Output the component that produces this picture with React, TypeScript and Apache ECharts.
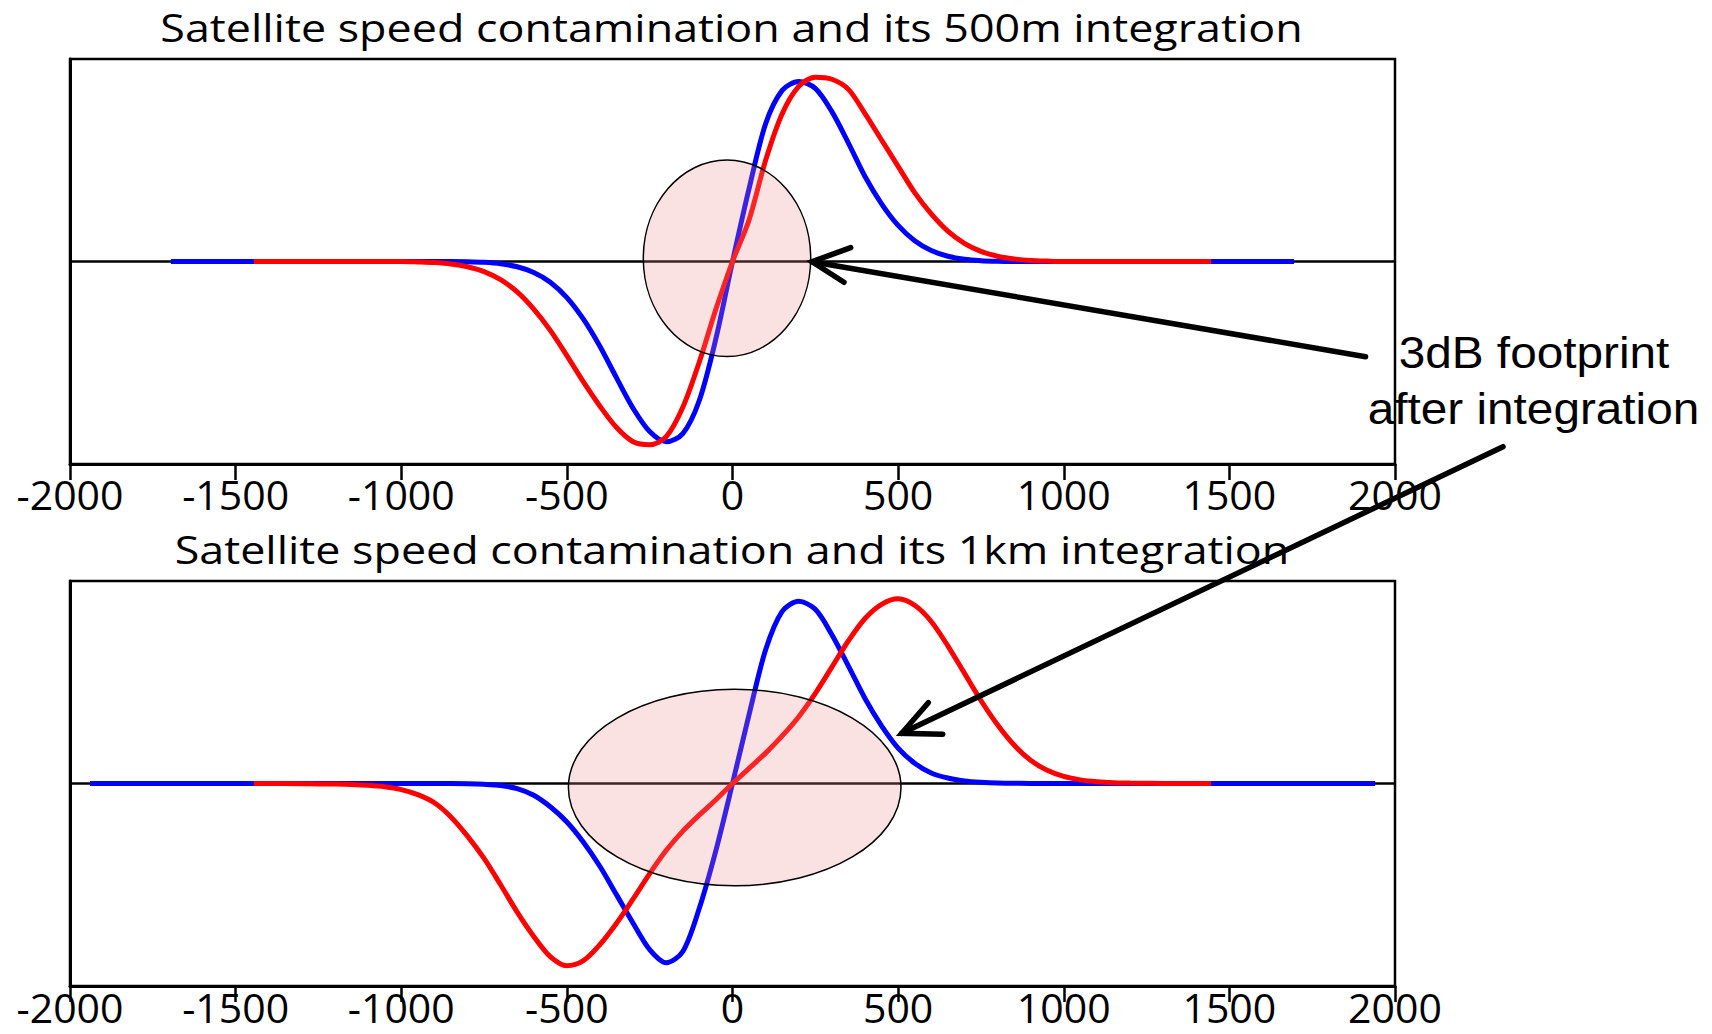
import React, { useEffect, useRef } from 'react';
import * as echarts from 'echarts';

// ---------- data ----------
const titleTop = 'Satellite speed contamination and its 500m integration';
const titleBottom = 'Satellite speed contamination and its 1km integration';
const noteLines = ['3dB footprint', 'after integration'];

const xMin = -2000;
const xMax = 2000;
const xStep = 500;

// sample positions used for the central part of the curves
const curveX = [
  -1000, -950, -900, -850, -800, -750, -700, -650, -600, -550,
  -500, -450, -400, -350, -300, -250, -200, -150, -100, -50,
  0,
  50, 100, 150, 200, 250, 300, 350, 400, 450, 500,
  550, 600, 650, 700, 750, 800, 850, 900, 950, 1000,
];

// top panel: satellite speed contamination (blue) and its 500 m integration (red)
const topBlueEnds = [-1695, 1695];
const topBlueY = [
  0, 0, 0, 0, -0.001, -0.004, -0.011, -0.026, -0.054, -0.102,
  -0.178, -0.285, -0.42, -0.575, -0.725, -0.84, -0.89, -0.85, -0.685, -0.38,
  0,
  0.36, 0.68, 0.845, 0.889, 0.855, 0.74, 0.585, 0.42, 0.285, 0.178,
  0.102, 0.054, 0.026, 0.011, 0.004, 0.001, 0, 0, 0, 0,
];
const topRedEnds = [-1445, 1445];
const topRedY = [
  0, -0.002, -0.005, -0.012, -0.026, -0.05, -0.09, -0.15, -0.235, -0.34,
  -0.465, -0.595, -0.715, -0.82, -0.89, -0.905, -0.865, -0.72, -0.495, -0.235,
  0,
  0.205, 0.5, 0.73, 0.865, 0.91, 0.9, 0.85, 0.73, 0.6, 0.47,
  0.34, 0.235, 0.15, 0.09, 0.05, 0.026, 0.012, 0.005, 0.002, 0,
];

// bottom panel: satellite speed contamination (blue) and its 1 km integration (red)
const bottomBlueEnds = [-1940, 1940];
const bottomBlueY = [
  0, 0, 0, 0, -0.001, -0.004, -0.01, -0.025, -0.058, -0.115,
  -0.19, -0.29, -0.41, -0.55, -0.69, -0.82, -0.885, -0.83, -0.615, -0.33,
  0,
  0.34, 0.66, 0.85, 0.9, 0.86, 0.735, 0.58, 0.42, 0.285, 0.175,
  0.1, 0.052, 0.027, 0.013, 0.006, 0.002, 0.001, 0, 0, 0,
];
const bottomRedEnds = [-1445, 1445];
const bottomRedX = [
  -1300, -1250, -1200, -1150, -1100, -1050, -1000, -950, -900, -850,
  -800, -750, -700, -650, -600, -550, -500, -450, -400, -350,
  -300, -250, -200, -150, -100, -50,
  0,
  50, 100, 150, 200, 250, 300, 350, 400, 450, 500,
  550, 600, 650, 700, 750, 800, 850, 900, 950, 1000,
  1050, 1100, 1150, 1200, 1250, 1300,
];
const bottomRedY = [
  -0.001, -0.002, -0.003, -0.005, -0.009, -0.016, -0.03, -0.055, -0.095, -0.165,
  -0.26, -0.37, -0.5, -0.635, -0.755, -0.855, -0.9, -0.875, -0.795, -0.69,
  -0.57, -0.445, -0.33, -0.235, -0.155, -0.08,
  0,
  0.075, 0.15, 0.235, 0.33, 0.445, 0.575, 0.705, 0.815, 0.885, 0.912,
  0.88, 0.8, 0.68, 0.545, 0.41, 0.29, 0.19, 0.115, 0.065, 0.035,
  0.018, 0.009, 0.004, 0.002, 0.001, 0,
];

function buildSeriesData(xs: number[], ys: number[], ends: number[]) {
  const pts: number[][] = [[ends[0], 0]];
  xs.forEach((x, i) => pts.push([x, ys[i]]));
  pts.push([ends[1], 0]);
  return pts;
}

export default function App() {
  const ref = useRef<HTMLDivElement>(null);

  useEffect(() => {
    if (!ref.current) return;
    const chart = echarts.init(ref.current, null, { renderer: 'svg' });

    const BLUE = '#0000ff';
    const RED = '#ff0000';

    const curve = (gi: number, data: number[][], color: string, z: number) => ({
      type: 'line',
      xAxisIndex: gi,
      yAxisIndex: gi,
      data,
      symbol: 'none',
      showSymbol: false,
      smooth: 0.3,
      silent: true,
      z,
      lineStyle: { color, width: 5 },
      itemStyle: { color },
    });

    const zero = (gi: number) => ({
      type: 'line',
      xAxisIndex: gi,
      yAxisIndex: gi,
      data: [[xMin, 0], [xMax, 0]],
      symbol: 'none',
      silent: true,
      z: 1,
      lineStyle: { color: '#000', width: 2.5 },
    });

    const title = (text: string, x: number, y: number) => ({
      type: 'text',
      x,
      y,
      scaleX: 1.15,
      z: 50,
      style: {
        text,
        fontFamily: 'Open Sans',
        fontSize: 39,
        fill: '#000',
        align: 'center',
        verticalAlign: 'middle',
        textAlign: 'center',
        textVerticalAlign: 'middle',
      },
    });

    const note = (text: string, x: number, y: number) => ({
      type: 'text',
      x,
      y,
      scaleX: 1.085,
      z: 50,
      style: {
        text,
        fontFamily: 'Liberation Sans',
        fontSize: 44,
        fill: '#000',
        align: 'center',
        verticalAlign: 'middle',
        textAlign: 'center',
        textVerticalAlign: 'middle',
      },
    });

    const ellipse = (cx: number, cy: number, rx: number, ry: number) => ({
      type: 'ellipse',
      z: 100,
      shape: { cx, cy, rx, ry },
      style: { fill: 'rgba(240,140,140,0.25)', stroke: '#000', lineWidth: 1.5 },
    });

    const arrow = (tail: number[], tip: number[], armA: number[], armB: number[]) => [
      {
        type: 'line',
        z: 110,
        shape: { x1: tail[0], y1: tail[1], x2: tip[0], y2: tip[1] },
        style: { stroke: '#000', lineWidth: 5.5, lineCap: 'round' },
      },
      {
        type: 'polyline',
        z: 110,
        shape: { points: [armA, tip, armB] },
        style: { stroke: '#000', lineWidth: 5.5, lineCap: 'round', lineJoin: 'miter', fill: 'none' },
      },
    ];

    const xAxis = [0, 1].map((gi) => ({
      type: 'value',
      gridIndex: gi,
      min: xMin,
      max: xMax,
      interval: xStep,
      axisLine: { show: true, onZero: false, lineStyle: { color: '#000', width: 3 } },
      axisTick: { show: true, length: 16, lineStyle: { color: '#000', width: 2.5 } },
      axisLabel: {
        color: '#000',
        fontFamily: 'Open Sans',
        fontSize: 41,
        lineHeight: 30,
        margin: gi === 0 ? 15 : 6,
        showMinLabel: true,
        showMaxLabel: true,
        formatter: (v: number) => String(v),
      },
      splitLine: { show: false },
    }));

    const yAxis = [0, 1].map((gi) => ({
      type: 'value',
      gridIndex: gi,
      min: -1,
      max: 1,
      axisLine: { show: true, onZero: false, lineStyle: { color: '#000', width: 3 } },
      axisTick: { show: false },
      axisLabel: { show: false },
      splitLine: { show: false },
    }));

    chart.setOption({
      animation: false,
      backgroundColor: '#fff',
      grid: [
        { left: 70, top: 59, width: 1325, height: 405, show: true, borderColor: '#000', borderWidth: 2.5 },
        { left: 70, top: 581, width: 1325, height: 405, show: true, borderColor: '#000', borderWidth: 2.5 },
      ],
      xAxis,
      yAxis,
      series: [
        zero(0),
        curve(0, buildSeriesData(curveX, topBlueY, topBlueEnds), BLUE, 2),
        curve(0, buildSeriesData(curveX, topRedY, topRedEnds), RED, 3),
        zero(1),
        curve(1, buildSeriesData(curveX, bottomBlueY, bottomBlueEnds), BLUE, 2),
        curve(1, buildSeriesData(bottomRedX, bottomRedY, bottomRedEnds), RED, 3),
      ],
      graphic: [
        title(titleTop, 731.5, 26.5),
        title(titleBottom, 732, 548.6),
        ellipse(727, 258.3, 83.7, 98.3),
        ellipse(734.7, 787.5, 166.3, 98.2),
        ...arrow([1365.6, 356.7], [812, 261.7], [850.7, 247.7], [844, 282.3]),
        ...arrow([1503, 446.7], [901.7, 733.3], [928.3, 702.7], [942.7, 734.3]),
        note(noteLines[0], 1534, 352.5),
        note(noteLines[1], 1533.5, 409),
      ],
    });

    return () => chart.dispose();
  }, []);

  return (
    <div
      ref={ref}
      style={{ position: 'fixed', left: 0, top: 0, width: 1712, height: 1034, background: '#fff' }}
    />
  );
}
